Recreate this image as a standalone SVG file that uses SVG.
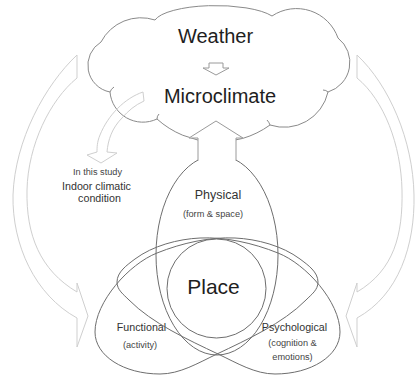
<svg xmlns="http://www.w3.org/2000/svg" width="415" height="378" viewBox="0 0 415 378">
<style>
.bg{fill:#fff}
.band{fill:none;stroke:#cfcfcf;stroke-width:1}
.cloud{fill:#fff;stroke:#8a8a8a;stroke-width:1}
.hook{fill:none;stroke:#8a8a8a;stroke-width:1}
.blk{fill:#fff;stroke:#9a9a9a;stroke-width:1}
.ring{fill:none;stroke:#6e6e6e;stroke-width:1}
text{font-family:"Liberation Sans",Arial,sans-serif;text-anchor:middle}
.big{font-size:20px;fill:#1e1e1e}
.mid{font-size:10.7px;fill:#333}
.sm{font-size:9.2px;fill:#444}
</style>
<defs>
  <path id="egg" d="M235,238 C257,239 282.4,245.8 300,259 C308,265 318,272 318,282 C318,290 311.6,294.3 306,300 C282.9,323.4 246.7,339.8 217,354 C198,363 180,374 160,374 C124,374 95,356 95,332 C95,302 129,264 157,253 C182,243 210,236.75 235,238 Z"/>
</defs>
<rect class="bg" x="0" y="0" width="415" height="378"/>
<g id="connectors">
  <path id="arrow-left" class="band" d="M77,55 C45,85 15,140 13,195 C12,245 35,295 77,318 L77,347 L88,316 L77,283 L77,292 C40,270 26,235 27,190 C28,145 50,100 77,78 Z"/>
  <path id="arrow-right" class="band" d="M357,55 C389,85 413,140 414,195 C415,245 399,295 357,318 L357,347 L346,316 L357,283 L357,292 C394,270 403,235 402,190 C401,145 384,100 357,78 Z"/>
</g>
<g id="cloud">
  <path class="cloud" d="M155,20 A62,18 0 0,1 272,16 A44,44 0 0,1 338,38 A31,31 0 0,1 328,92 A45,45 0 0,1 270,125 A90,90 0 0,1 157,119 A33,33 0 0,1 110,92 A27.2,27.2 0 0,1 101,42 A45,45 0 0,1 155,20 Z"/>
  <path class="hook" d="M110,92 q1,-3 4,-5 M157,119 q0,-3 2,-5 M270,125 q-1,-3 -3,-5 M328,92 q-2,-2 -5,-2"/>
  <path class="blk" d="M209,63 L223,63 L223,68 L229,68 L216,75 L203,68 L209,68 Z"/>
  <text class="big" x="215.5" y="43">Weather</text>
  <text class="big" x="220" y="103">Microclimate</text>
</g>
<g id="study">
  <path class="band" d="M143,92 C125,98 108,115 100,135 C97,142 97,148 97,152 L87,155 L101,163 L117,153 L107,152 C108,140 112,128 122,118 C128,111 135,105 144,101 Z"/>
  <text class="sm" x="97.5" y="175">In this study</text>
  <text class="mid" x="96.5" y="190">Indoor climatic</text>
  <text class="mid" x="99.5" y="202">condition</text>
</g>
<g id="physical">
  <ellipse class="ring" cx="217" cy="255" rx="61" ry="100"/>
  <text class="mid" x="218" y="199" style="font-size:12.5px">Physical</text>
  <text class="sm" x="213" y="217">(form &amp; space)</text>
</g>
<g id="functional">
  <use href="#egg" class="ring"/>
  <text class="mid" x="141.5" y="331">Functional</text>
  <text class="sm" x="140" y="348">(activity)</text>
</g>
<g id="psychological">
  <use href="#egg" class="ring" transform="translate(435,0) scale(-1,1)"/>
  <text class="mid" x="294.5" y="331">Psychological</text>
  <text class="sm" x="292.5" y="346">(cognition &amp;</text>
  <text class="sm" x="292.5" y="360">emotions)</text>
</g>
<g id="place">
  <circle class="ring" cx="216.5" cy="288.5" r="49.5"/>
  <text class="big" x="213.5" y="294" style="font-size:21px">Place</text>
</g>
<g id="up-arrow">
  <path class="blk" d="M198,160 L198,138 L189,138 L216,121 L243,138 L236,138 L236,160"/>
</g>
</svg>
